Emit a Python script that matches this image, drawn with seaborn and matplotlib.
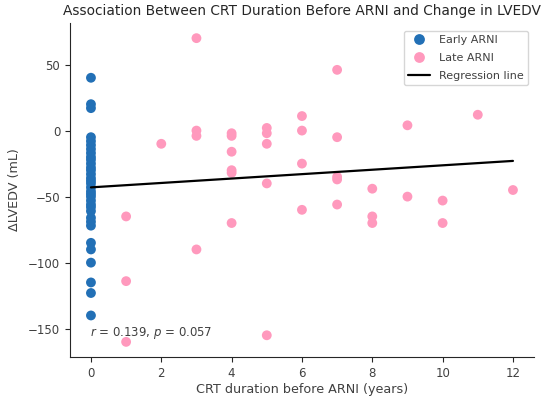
import numpy as np
import pandas as pd
import matplotlib
matplotlib.use("Agg")
import matplotlib.pyplot as plt
import seaborn as sns

# ---- data ----
early_years = [0] * 34
early_delta = [40, 20, 17, -5, -8, -11, -14, -17, -20, -22, -25, -28, -30,
               -33, -36, -38, -40, -43, -46, -48, -50, -53, -56, -58, -61,
               -66, -69, -72, -85, -90, -100, -115, -123, -140]

late_years = [1, 1, 1, 2, 3, 3, 3, 3, 4, 4, 4, 4, 4, 4,
              5, 5, 5, 5, 5, 6, 6, 6, 6, 7, 7, 7, 7, 7,
              8, 8, 8, 9, 9, 10, 10, 11, 12]
late_delta = [-65, -114, -160, -10, 70, 0, -4, -90, -2, -4, -16, -30, -32, -70,
              2, -2, -10, -40, -155, 11, 0, -25, -60, 46, -5, -35, -37, -56,
              -44, -65, -70, 4, -50, -53, -70, 12, -45]

reg_intercept = -43.0
reg_slope = 1.67
reg_x = [0, 12]

r_value = 0.139
p_value = 0.057

EARLY_COLOR = "#2270b6"
LATE_COLOR = "#ff99bd"

df = pd.concat([
    pd.DataFrame({"years": early_years, "delta": early_delta, "group": "Early ARNI"}),
    pd.DataFrame({"years": late_years, "delta": late_delta, "group": "Late ARNI"}),
], ignore_index=True)

line_df = pd.DataFrame({"years": reg_x})
line_df["delta"] = reg_intercept + reg_slope * line_df["years"]

sns.set_style("ticks")
plt.rcParams["font.family"] = ["DejaVu Sans"]

fig, ax = plt.subplots(figsize=(5.5, 4.03), dpi=100)
fig.subplots_adjust(left=0.127, right=0.971, bottom=0.114, top=0.943)

sns.scatterplot(data=df, x="years", y="delta", hue="group",
                palette={"Early ARNI": EARLY_COLOR, "Late ARNI": LATE_COLOR},
                s=50, linewidth=0, alpha=1.0, ax=ax)
sns.lineplot(data=line_df, x="years", y="delta", color="black", lw=1.6,
             label="Regression line", ax=ax)

ax.set_xticks([0, 2, 4, 6, 8, 10, 12])
ax.set_yticks([-150, -100, -50, 0, 50])
ax.tick_params(labelsize=8.5, colors=".15", labelcolor=".25")
ax.set_xlabel("CRT duration before ARNI (years)", fontsize=9.2, color=".25",
              labelpad=2)
ax.set_ylabel("\u0394LVEDV (mL)", fontsize=9.2, color=".25", labelpad=5)
ax.set_title("Association Between CRT Duration Before ARNI and Change in LVEDV",
             fontsize=9.9, color=".15")

ax.text(0.043, 0.072, f"$r$ = {r_value:.3f}, $p$ = {p_value:.3f}",
        transform=ax.transAxes, fontsize=8.5, color=".25", va="center")

leg = ax.legend(loc="upper right", bbox_to_anchor=(1.0, 0.994), fontsize=8,
                labelspacing=0.7, markerscale=1.1, frameon=True, title=None)
for t in leg.get_texts():
    t.set_color(".25")

sns.despine(ax=ax)
plt.savefig("out.png", dpi=100)
plt.close()
